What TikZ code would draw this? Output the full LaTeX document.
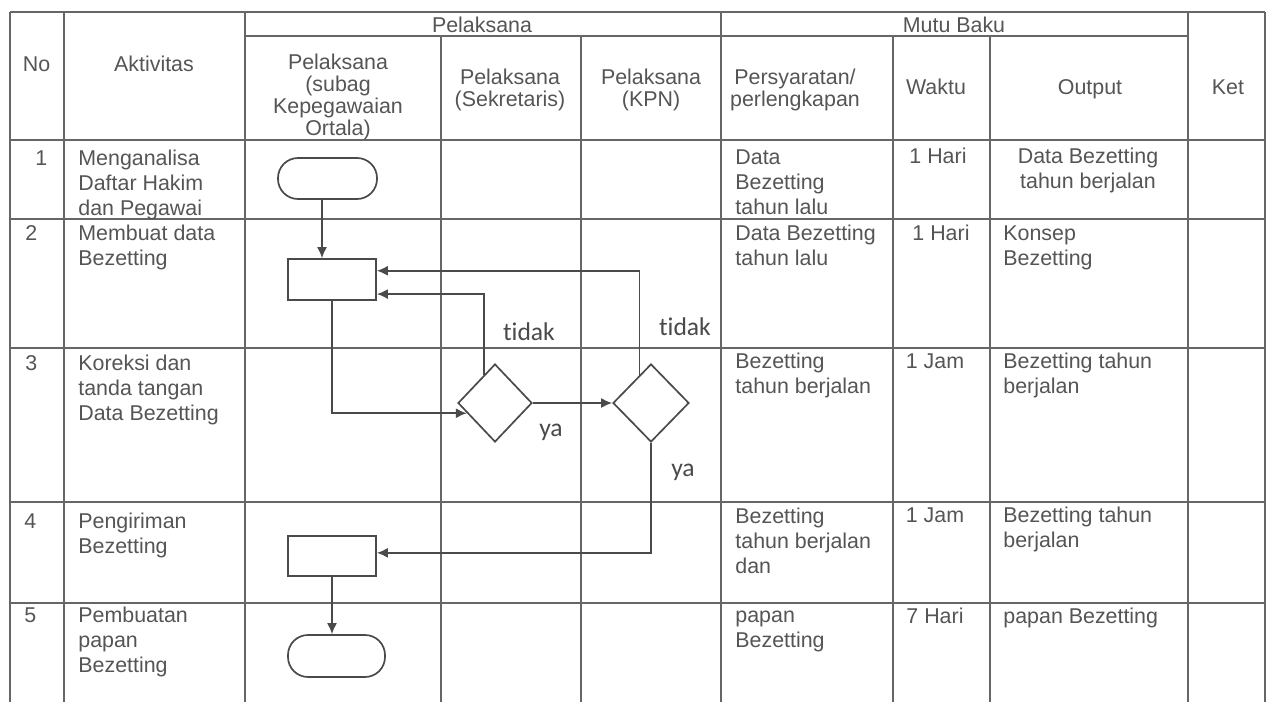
\documentclass[tikz,border=0pt]{standalone}
\usepackage{fontspec}
\setmainfont{Liberation Sans}
\newfontfamily\calibfont[Ligatures=NoCommon]{Carlito}
\usetikzlibrary{arrows.meta,shapes.geometric}
\definecolor{txt}{HTML}{555555}
\definecolor{gridc}{HTML}{666666}
\definecolor{flow}{HTML}{4A4A4A}
\newcommand{\cellL}[1]{\begin{tabular}[t]{@{}l@{}}#1\end{tabular}}
\newcommand{\cellC}[1]{\begin{tabular}[t]{@{}c@{}}#1\end{tabular}}
\begin{document}
\begin{tikzpicture}[x=0.5pt,y=-0.5pt,
  cell/.style={inner sep=0pt, text=txt, font=\fontsize{10.7}{12.5}\selectfont},
  hcell/.style={inner sep=0pt, text=txt, font=\fontsize{10.7}{10.85}\selectfont, anchor=base},
  lbl/.style={inner sep=0pt, text=flow, font=\calibfont\fontsize{12.8}{14}\selectfont, anchor=base},
  gridline/.style={draw=gridc, line width=0.75pt},
  flowline/.style={draw=flow, line width=0.85pt},
  arr/.style={flowline, -{Latex[length=5.5pt,width=5pt]}},
  term/.style={draw=flow, line width=0.85pt, rectangle, rounded corners=10pt, inner sep=0pt},
  procbox/.style={draw=flow, line width=0.85pt, rectangle, inner sep=0pt},
  decision/.style={draw=flow, line width=0.85pt, diamond, inner sep=0pt},
]
\fill[white] (0,0) rectangle (1270,702);
\useasboundingbox (0,0) rectangle (1270,702);

% ---- table grid ----
\draw[gridline] (10,12) -- (1265,12);
\draw[gridline] (245,36) -- (1188,36);
\foreach \yy in {140,219,348,502,603} \draw[gridline] (10,\yy) -- (1265,\yy);
\foreach \xx in {10,64,245,721,1188,1265} \draw[gridline] (\xx,12) -- (\xx,702);
\foreach \xx in {441,581,893,990} \draw[gridline] (\xx,36) -- (\xx,702);

% ---- header ----
\node[hcell] (h-pel) at (482,32) {Pelaksana};
\node[hcell] (h-mutu) at (954,32) {Mutu Baku};
\node[hcell] (h-no) at (36.5,71) {No};
\node[hcell] (h-akt) at (154,71) {Aktivitas};
\node[hcell] (h-p1) at (338,69) {\cellC{Pelaksana\\(subag\\Kepegawaian\\Ortala)}};
\node[hcell] (h-p2) at (510,84) {\cellC{Pelaksana\\(Sekretaris)}};
\node[hcell] (h-p3) at (651,84) {\cellC{Pelaksana\\(KPN)}};
\node[hcell] (h-syarat) at (795,84) {\cellC{Persyaratan/\\perlengkapan}};
\node[hcell] (h-waktu) at (936,94) {Waktu};
\node[hcell] (h-out) at (1090,94) {Output};
\node[hcell] (h-ket) at (1228,94) {Ket};

% ---- row 1 ----
\node[cell, anchor=base west] (r1-no) at (35,165) {1};
\node[cell, anchor=base west] (r1-akt) at (78,165) {\cellL{Menganalisa\\Daftar Hakim\\dan Pegawai}};
\node[cell, anchor=base west] (r1-syr) at (735,164) {\cellL{Data\\Bezetting\\tahun lalu}};
\node[cell, anchor=base] (r1-wkt) at (938,163) {1 Hari};
\node[cell, anchor=base] (r1-out) at (1088,163) {\cellC{Data Bezetting\\tahun berjalan}};

% ---- row 2 ----
\node[cell, anchor=base west] (r2-no) at (25,240) {2};
\node[cell, anchor=base west] (r2-akt) at (78,240) {\cellL{Membuat data\\Bezetting}};
\node[cell, anchor=base west] (r2-syr) at (735,240) {\cellL{Data Bezetting\\tahun lalu}};
\node[cell, anchor=base] (r2-wkt) at (941,240) {1 Hari};
\node[cell, anchor=base west] (r2-out) at (1003,240) {\cellL{Konsep\\Bezetting}};

% ---- row 3 ----
\node[cell, anchor=base west] (r3-no) at (25,370) {3};
\node[cell, anchor=base west] (r3-akt) at (78,370) {\cellL{Koreksi dan\\tanda tangan\\Data Bezetting}};
\node[cell, anchor=base west] (r3-syr) at (735,368) {\cellL{Bezetting\\tahun berjalan}};
\node[cell, anchor=base] (r3-wkt) at (935,368) {1 Jam};
\node[cell, anchor=base west] (r3-out) at (1003,368) {\cellL{Bezetting tahun\\berjalan}};

% ---- row 4 ----
\node[cell, anchor=base west] (r4-no) at (24,528) {4};
\node[cell, anchor=base west] (r4-akt) at (78,528) {\cellL{Pengiriman\\Bezetting}};
\node[cell, anchor=base west] (r4-syr) at (735,523) {\cellL{Bezetting\\tahun berjalan\\dan}};
\node[cell, anchor=base] (r4-wkt) at (935,522) {1 Jam};
\node[cell, anchor=base west] (r4-out) at (1003,522) {\cellL{Bezetting tahun\\berjalan}};

% ---- row 5 ----
\node[cell, anchor=base west] (r5-no) at (24,622) {5};
\node[cell, anchor=base west] (r5-akt) at (78,622) {\cellL{Pembuatan\\papan\\Bezetting}};
\node[cell, anchor=base west] (r5-syr) at (735,622) {\cellL{papan\\Bezetting}};
\node[cell, anchor=base] (r5-wkt) at (935,623) {7 Hari};
\node[cell, anchor=base west] (r5-out) at (1003,623) {papan Bezetting};

% ---- flowchart shapes ----
\node[term, minimum width=49.5pt, minimum height=20.5pt] (start) at (327.5,178.5) {};
\node[procbox, minimum width=44pt, minimum height=20.5pt] (box1) at (332,279.5) {};
\node[decision, minimum width=37pt, minimum height=39pt] (d1) at (495,403) {};
\node[decision, minimum width=38pt, minimum height=39pt] (d2) at (651,403) {};
\node[procbox, minimum width=44pt, minimum height=20pt] (box2) at (332,556) {};
\node[term, minimum width=48.5pt, minimum height=21pt] (end) at (336.5,656) {};

% ---- connectors ----
\coordinate (s1) at ([xshift=-2.75pt]start.south);
\draw[arr] (s1) -- (s1 |- box1.north);
\draw[arr] (box1.south) |- (d1.200);
\draw[arr] (d1.east) -- (d2.west);
\draw[arr] (d1.112) |- (box1.-18);
\draw[arr] (d2.112) |- (box1.11);
\draw[arr] (d2.south) |- (box2.4);
\draw[arr] (box2.south) -- (box2.south |- end.north);

% ---- labels ----
\node[lbl] (tidak1) at (529,340) {tidak};
\node[lbl] (tidak2) at (685,335) {tidak};
\node[lbl] (ya1) at (551,436) {ya};
\node[lbl] (ya2) at (683,476) {ya};
\end{tikzpicture}
\end{document}
